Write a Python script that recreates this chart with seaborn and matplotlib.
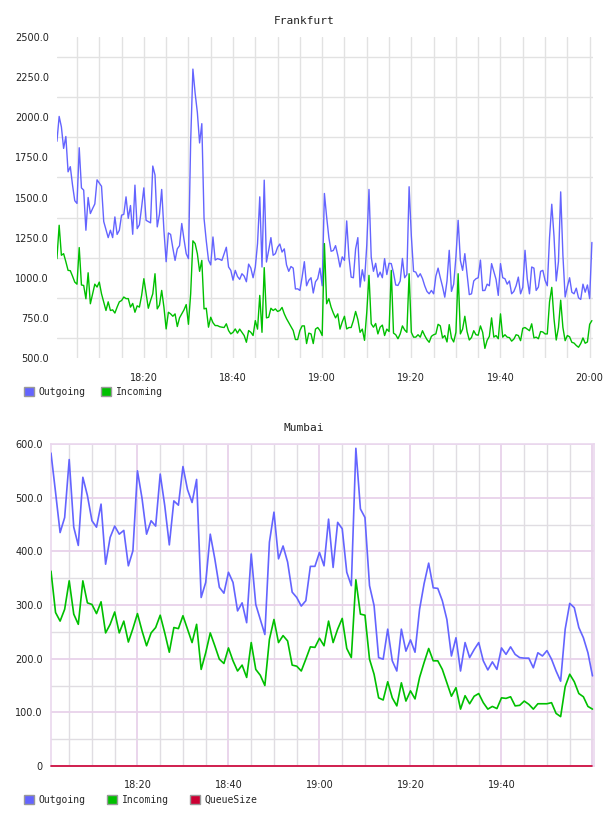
import numpy as np
import pandas as pd
import matplotlib
matplotlib.use("Agg")
import matplotlib.pyplot as plt
import matplotlib.dates as mdates
from matplotlib.ticker import MultipleLocator, FixedLocator, FuncFormatter
from matplotlib.patches import Patch
import seaborn as sns

# ---------------- data ----------------
frankfurt_start = "2024-01-01 18:00:30"
frankfurt_step = "30s"
frankfurt_outgoing = [
    1850, 2005, 1940, 1806, 1880, 1660, 1692, 1577, 1480, 1463,
    1810, 1560, 1546, 1296, 1500, 1400, 1431, 1460, 1610, 1590,
    1570, 1350, 1300, 1250, 1296, 1250, 1379, 1270, 1296, 1390,
    1395, 1504, 1370, 1450, 1271, 1577, 1306, 1330, 1440, 1560,
    1358, 1350, 1342, 1696, 1640, 1317, 1395, 1550, 1296, 1100,
    1279, 1270, 1185, 1108, 1180, 1200, 1338, 1240, 1150, 1119,
    1850, 2300, 2150, 2030, 1840, 1960, 1370, 1230, 1110, 1080,
    1254, 1110, 1119, 1115, 1108, 1150, 1190, 1067, 1046, 985,
    1046, 1008, 990, 1025, 1010, 975, 1085, 1060, 1000, 1067,
    1213, 1504, 1067, 1608, 1098, 1171, 1250, 1140, 1150, 1190,
    1210, 1160, 1180, 1080, 1040, 1070, 1060, 930, 931, 921,
    1004, 1100, 950, 984, 1000, 905, 975, 994, 1060, 950,
    1525, 1379, 1250, 1165, 1170, 1200, 1140, 1067, 1130, 1108,
    1354, 1130, 1004, 1000, 1180, 1250, 942, 1050, 980, 1202,
    1550, 1129, 1040, 1090, 1004, 1035, 1000, 1119, 1020, 1090,
    1088, 1030, 955, 952, 980, 1120, 1000, 1020, 1567, 1260,
    1040, 1035, 1004, 1025, 995, 950, 915, 900, 921, 900,
    1010, 1060, 1000, 945, 879, 980, 1171, 915, 960, 1129,
    1358, 1108, 1046, 1150, 1020, 895, 900, 980, 994, 1000,
    1110, 920, 921, 960, 950, 1088, 1040, 990, 890, 1088,
    1000, 994, 960, 980, 900, 915, 950, 1004, 900, 940,
    1171, 994, 900, 1067, 1060, 921, 942, 1040, 1046, 984,
    950, 1250, 1458, 1260, 980, 1100, 1535, 1140, 880, 945,
    1000, 910, 900, 935, 875, 865, 960, 910, 955, 870,
    1220,
]
frankfurt_incoming = [
    1119, 1327, 1140, 1150, 1100, 1046, 1044, 1010, 973, 960,
    1188, 955, 952, 869, 1031, 838, 900, 960, 942, 973,
    900, 848, 796, 850, 796, 800, 780, 817, 850, 858,
    880, 870, 870, 817, 840, 785, 825, 817, 890, 994,
    900, 810, 858, 900, 1025, 806, 830, 921, 817, 681,
    785, 775, 760, 775, 696, 750, 775, 800, 833, 710,
    900, 1230, 1213, 1150, 1040, 1108, 806, 810, 692, 754,
    720, 702, 702, 695, 692, 690, 713, 671, 650, 660,
    681, 655, 680, 660, 640, 598, 671, 660, 640, 733,
    680, 890, 660, 1063, 750, 754, 810, 796, 806, 790,
    796, 815, 775, 745, 720, 695, 671, 615, 615, 671,
    700, 700, 590, 655, 650, 590, 680, 690, 671, 640,
    1213, 838, 870, 817, 780, 750, 775, 680, 725, 760,
    681, 690, 690, 733, 790, 740, 660, 680, 610, 785,
    1015, 713, 692, 715, 650, 692, 705, 640, 680, 665,
    1046, 655, 645, 620, 650, 700, 675, 660, 1025, 660,
    630, 630, 645, 630, 670, 640, 615, 598, 635, 645,
    650, 710, 700, 625, 640, 600, 708, 625, 600, 660,
    1025, 650, 680, 760, 665, 612, 628, 670, 645, 642,
    700, 660, 560, 610, 635, 750, 630, 640, 620, 775,
    630, 645, 630, 627, 605, 618, 645, 640, 608, 685,
    690, 680, 670, 713, 625, 630, 620, 665, 662, 650,
    650, 850, 940, 745, 612, 690, 860, 690, 608, 640,
    632, 598, 593, 578, 567, 590, 625, 592, 600, 710,
    733,
]

mumbai_start = "2024-01-01 18:01:00"
mumbai_step = "1min"
mumbai_outgoing = [
    583, 510, 435, 463, 571, 445, 411, 538, 504, 457,
    445, 488, 376, 426, 447, 432, 439, 373, 401, 550,
    499, 432, 457, 447, 544, 485, 412, 494, 486, 558,
    515, 491, 534, 314, 342, 432, 386, 333, 322, 361,
    342, 289, 304, 267, 395, 301, 273, 245, 417, 473,
    386, 410, 380, 324, 314, 298, 308, 372, 372, 398,
    373, 460, 370, 454, 442, 361, 336, 592, 479, 463,
    336, 299, 202, 199, 255, 196, 177, 255, 214, 235,
    212, 292, 340, 378, 332, 331, 308, 273, 205, 239,
    177, 230, 202, 217, 230, 196, 179, 194, 180, 220,
    208, 222, 208, 202, 201, 201, 183, 211, 205, 215,
    199, 177, 158, 255, 303, 295, 258, 239, 211, 168,
]
mumbai_incoming = [
    363, 286, 270, 292, 345, 283, 264, 345, 304, 301,
    284, 306, 248, 264, 287, 248, 270, 231, 256, 284,
    252, 224, 248, 258, 281, 248, 212, 258, 256, 280,
    255, 230, 264, 180, 211, 248, 224, 199, 191, 220,
    196, 177, 188, 165, 230, 180, 169, 150, 236, 273,
    230, 243, 233, 188, 186, 177, 199, 222, 221, 238,
    224, 270, 230, 255, 275, 219, 202, 347, 283, 281,
    199, 171, 127, 123, 157, 127, 112, 155, 121, 140,
    125, 165, 193, 219, 196, 196, 180, 155, 130, 146,
    106, 131, 116, 130, 135, 118, 106, 111, 107, 127,
    126, 129, 112, 113, 121, 115, 106, 116, 116, 116,
    118, 98, 92, 148, 171, 157, 135, 129, 111, 106,
]
mumbai_queue = [0] * 120

series_names = ["Outgoing", "Incoming", "QueueSize"]
series_colors = ["#6464ff", "#00c000", "#cc0033"]

# ---------------- style ----------------
sns.set_style("white")
plt.rcParams["font.family"] = ["DejaVu Sans"]
MONO = "DejaVu Sans Mono"

W, H = 608, 816
fig = plt.figure(figsize=(W / 100, H / 100), dpi=100)


def box(l, t, r, b):
    return [l / W, 1 - b / H, (r - l) / W, (b - t) / H]


ax1 = fig.add_axes(box(57.3, 37, 593, 358))
ax2 = fig.add_axes(box(51, 444, 594, 766))


def hhmm(v, p, hide=()):
    s = mdates.num2date(v).strftime("%H:%M")
    return "" if s in hide else s


# ---------------- Frankfurt ----------------
t1 = pd.date_range(frankfurt_start, periods=len(frankfurt_outgoing), freq=frankfurt_step)
df1 = pd.DataFrame({"time": t1, "Outgoing": frankfurt_outgoing, "Incoming": frankfurt_incoming})
sns.lineplot(data=df1, x="time", y="Outgoing", ax=ax1, color=series_colors[0], linewidth=1.0, zorder=3)
sns.lineplot(data=df1, x="time", y="Incoming", ax=ax1, color=series_colors[1], linewidth=1.0, zorder=3)

ax1.set_xlim(pd.Timestamp("2024-01-01 18:00:35"), pd.Timestamp("2024-01-01 20:00:45"))
ax1.set_ylim(500, 2500)
ax1.yaxis.set_major_locator(MultipleLocator(250))
ax1.yaxis.set_minor_locator(FixedLocator(np.arange(625, 2500, 250)))
ax1.yaxis.set_major_formatter(FuncFormatter(lambda v, p: f"{v:.1f}"))
ax1.xaxis.set_major_locator(mdates.MinuteLocator(byminute=[0, 20, 40]))
ax1.xaxis.set_minor_locator(mdates.MinuteLocator(byminute=range(5, 60, 5)))
ax1.xaxis.set_major_formatter(FuncFormatter(hhmm))
ax1.xaxis.grid(True, which="both", color="#e2e2e2", linewidth=1.0)
ax1.yaxis.grid(True, which="minor", color="#e2e2e2", linewidth=1.0)
ax1.yaxis.grid(False, which="major")
for s in ax1.spines.values():
    s.set_visible(False)
ax1.tick_params(axis="both", which="both", length=0, labelsize=7, colors="#222222")
ax1.tick_params(axis="x", pad=11)
ax1.tick_params(axis="y", pad=6)
ax1.set_xlabel("")
ax1.set_ylabel("")
ax1.set_axisbelow(True)

# ---------------- Mumbai ----------------
t2 = pd.date_range(mumbai_start, periods=len(mumbai_outgoing), freq=mumbai_step)
df2 = pd.DataFrame({"time": t2, "Outgoing": mumbai_outgoing,
                    "Incoming": mumbai_incoming, "QueueSize": mumbai_queue})
for name, col in zip(series_names, series_colors):
    sns.lineplot(data=df2, x="time", y=name, ax=ax2, color=col, linewidth=1.2,
                 zorder=3, clip_on=(name != "QueueSize"))

ax2.set_xlim(pd.Timestamp("2024-01-01 18:01:00"), pd.Timestamp("2024-01-01 20:00:20"))
ax2.set_ylim(0, 600)
ax2.yaxis.set_major_locator(MultipleLocator(100))
ax2.yaxis.set_minor_locator(MultipleLocator(50))
ax2.yaxis.set_major_formatter(FuncFormatter(lambda v, p: "0" if v == 0 else f"{v:.1f}"))
ax2.xaxis.set_major_locator(mdates.MinuteLocator(byminute=[0, 20, 40]))
ax2.xaxis.set_minor_locator(mdates.MinuteLocator(byminute=range(5, 60, 5)))
ax2.xaxis.set_major_formatter(FuncFormatter(lambda v, p: hhmm(v, p, hide=("20:00",))))
ax2.grid(True, which="minor", color="#e0dde2", linewidth=1.0)
ax2.grid(True, which="major", color="#e8d2ea", linewidth=1.3)
for s in ax2.spines.values():
    s.set_visible(True)
    s.set_color("#ead8ee")
    s.set_linewidth(1.2)
    s.set_zorder(1)
ax2.tick_params(axis="both", which="both", length=0, labelsize=7, colors="#222222")
ax2.tick_params(axis="x", pad=10)
ax2.tick_params(axis="y", pad=6)
ax2.set_xlabel("")
ax2.set_ylabel("")
ax2.set_axisbelow(True)

# ---------------- titles ----------------
fig.text(0.5, 1 - 20.5 / H, "Frankfurt", ha="center", va="center",
         family=MONO, size=8, color="#222222")
fig.text(0.5, 1 - 428 / H, "Mumbai", ha="center", va="center",
         family=MONO, size=8, color="#222222")


# ---------------- legends ----------------
def make_legend(names, y_px, colspace):
    handles = [Patch(facecolor=series_colors[series_names.index(n)], edgecolor="#999999",
                     linewidth=1.0) for n in names]
    fig.legend(handles, names, loc="center left", bbox_to_anchor=(24 / W, 1 - y_px / H),
               ncol=len(names), frameon=False, handlelength=1.0, handleheight=1.0,
               handletextpad=0.5, columnspacing=colspace, borderpad=0, borderaxespad=0,
               prop={"family": MONO, "size": 7})


make_legend(["Outgoing", "Incoming"], 392, 1.6)
make_legend(["Outgoing", "Incoming", "QueueSize"], 800, 2.2)

fig.savefig("out.png", dpi=100)
